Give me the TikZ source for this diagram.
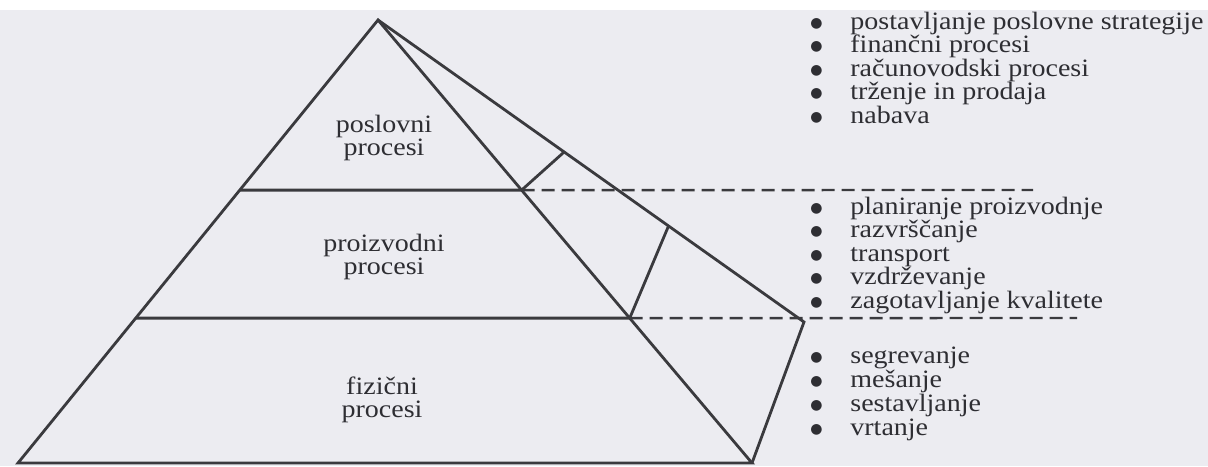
\documentclass[tikz,border=0pt]{standalone}
\usepackage{fontspec}
\setmainfont{Liberation Serif}[FakeStretch=1.12]
\newfontfamily\dotfont{DejaVu Sans}
\usepackage{xcolor}
\usetikzlibrary{calc}

\definecolor{ink}{HTML}{3A3A3E}
\definecolor{type}{HTML}{2E2E33}
\definecolor{paper}{HTML}{ECECF1}
\newcommand{\itm}[1]{\makebox[20pt][l]{\raisebox{0.9pt}{\dotfont\fontsize{7}{7}\selectfont ●}}#1}

\begin{document}
\begin{tikzpicture}[
  x=0.5pt, y=-0.5pt,
  edge/.style={draw=ink, line width=1.4pt, line join=miter},
  cut/.style={draw=ink, line width=1.2pt, dash pattern=on 6.5pt off 3.5pt},
  lvl/.style={align=center, text=type, inner sep=0pt,
              font=\fontsize{12.5}{11.75}\selectfont},
  entry/.style={anchor=base west, inner sep=0pt, text=type,
                font=\fontsize{12.5}{12}\selectfont}
]
% Page
\fill[paper] (0,0) rectangle (1208,466);
\fill[white] (0,0) rectangle (1208,10);
\useasboundingbox (0,0) rectangle (1208,466);

% Pyramid corners
\coordinate (apex) at (378,20);
\coordinate (BL) at (18,463);
\coordinate (BR) at (752,463);
\coordinate (R) at (804,322);

% Points where the layers cut the edges
\coordinate (L1) at ($(apex)!0.384!(BL)$);
\coordinate (F1) at ($(apex)!0.384!(BR)$);
\coordinate (S1) at ($(apex)!0.437!(R)$);
\coordinate (L2) at ($(apex)!0.673!(BL)$);
\coordinate (F2) at ($(apex)!0.673!(BR)$);
\coordinate (S2) at ($(apex)!0.682!(R)$);
\coordinate (D1) at (1033,190);
\coordinate (D2) at (1077,318);

% Outline
\draw[edge] (BL) -- (apex) -- (BR) -- cycle;
\draw[edge] (apex) -- (R) -- (BR);

% Layer borders
\draw[edge] (L1) -- (F1) -- (S1);
\draw[edge] (L2) -- (F2) -- (S2);
\draw[cut] (F1) -- (D1);
\draw[cut] (F2) -- (D2);

% Layers
\node[lvl] (posl) at (384,138) {poslovni\\procesi};
\node[lvl] (proiz) at (384,257) {proizvodni\\procesi};
\node[lvl] (fiz) at (382,400) {fizični\\procesi};

% Business processes
\node[entry] (p1) at (810,29) {\itm{postavljanje poslovne strategije}};
\node[entry] (p2) at (810,52.5) {\itm{finančni procesi}};
\node[entry] (p3) at (810,76) {\itm{računovodski procesi}};
\node[entry] (p4) at (810,99.5) {\itm{trženje in prodaja}};
\node[entry] (p5) at (810,123) {\itm{nabava}};

% Production processes
\node[entry] (r1) at (810,214) {\itm{planiranje proizvodnje}};
\node[entry] (r2) at (810,237.5) {\itm{razvrščanje}};
\node[entry] (r3) at (810,261) {\itm{transport}};
\node[entry] (r4) at (810,284.5) {\itm{vzdrževanje}};
\node[entry] (r5) at (810,308) {\itm{zagotavljanje kvalitete}};

% Physical processes
\node[entry] (f1) at (810,363) {\itm{segrevanje}};
\node[entry] (f2) at (810,387) {\itm{mešanje}};
\node[entry] (f3) at (810,411) {\itm{sestavljanje}};
\node[entry] (f4) at (810,435) {\itm{vrtanje}};
\end{tikzpicture}
\end{document}
